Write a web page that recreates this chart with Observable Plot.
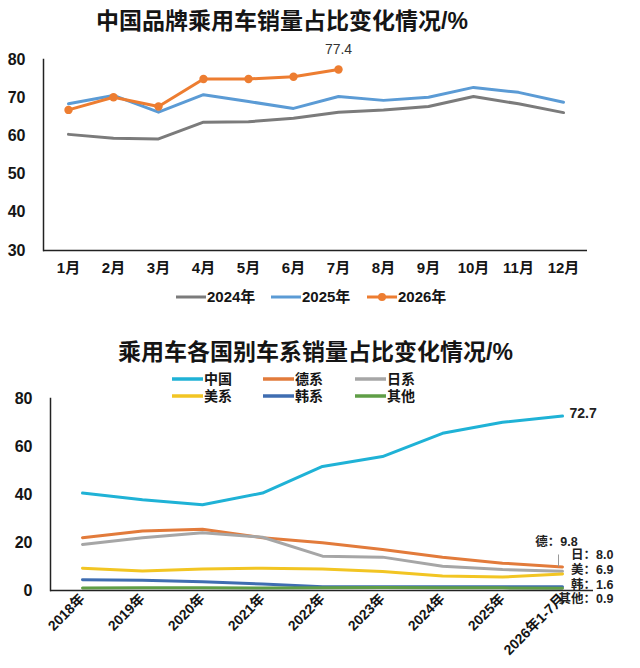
<!DOCTYPE html>
<html><head><meta charset="utf-8">
<script src="https://cdn.jsdelivr.net/npm/d3@7"></script>
<script src="https://cdn.jsdelivr.net/npm/@observablehq/plot@0.6"></script>
<style>
body{margin:0;background:#fff;font-family:"Liberation Sans","Noto Sans CJK SC",sans-serif;}
#wrap{position:relative;width:640px;height:668px;overflow:hidden;background:#fff;}
.title{position:absolute;font-weight:bold;font-size:23px;color:#151515;white-space:nowrap;line-height:1;}
.plot{position:absolute;left:0;}
.leg{position:absolute;font-weight:bold;color:#151515;white-space:nowrap;z-index:2;}
.item{position:absolute;display:flex;align-items:center;line-height:1;}
.item svg{display:block;margin-right:1px;}
</style></head>
<body><div id="wrap">
<div class="title" id="t1" style="left:96px;top:10px;">中国品牌乘用车销量占比变化情况/%</div>
<div class="plot" id="p1" style="top:40px;"></div>
<div class="leg" id="l1" style="left:0;top:297px;font-size:15px;"></div>
<div class="title" id="t2" style="left:118px;top:341px;">乘用车各国别车系销量占比变化情况/%</div>
<div class="plot" id="p2" style="top:380px;"></div>
<div class="leg" id="l2" style="left:0;top:0;font-size:14px;"></div>
</div>
<script>
// ---- Chart 1 data ----
const months = ["1月","2月","3月","4月","5月","6月","7月","8月","9月","10月","11月","12月"];
const share2024 = [60.4, 59.4, 59.2, 63.6, 63.7, 64.6, 66.2, 66.8, 67.7, 70.3, 68.4, 66.1];
const share2025 = [68.4, 70.6, 66.2, 70.8, 69.0, 67.2, 70.3, 69.3, 70.1, 72.7, 71.4, 68.8];
const share2026 = [66.8, 70.1, 67.7, 74.9, 74.9, 75.5, 77.4];
const yearNames = ["2024年","2025年","2026年"];
const yearColors = ["#7b7b7b","#5b9bd5","#ed7d31"];
const yTicks1 = [30,40,50,60,70,80];

// ---- Chart 2 data ----
const periods = ["2018年","2019年","2020年","2021年","2022年","2023年","2024年","2025年","2026年1-7月"];
const china    = [40.6, 37.8, 35.7, 40.6, 51.7, 55.8, 65.5, 70.1, 72.7];
const german   = [22.0, 24.8, 25.5, 22.0, 19.9, 17.1, 13.9, 11.4, 9.8];
const japanese = [19.2, 22.0, 24.1, 22.2, 14.3, 13.9, 10.1, 8.7, 8.0];
const american = [9.3, 8.1, 9.0, 9.3, 9.0, 7.9, 6.0, 5.6, 6.9];
const korean   = [4.5, 4.3, 3.6, 2.7, 1.6, 1.6, 1.6, 1.6, 1.6];
const others   = [1.0, 1.1, 1.1, 1.0, 1.1, 1.2, 1.1, 1.1, 0.9];
const seriesNames  = ["中国","德系","日系","美系","韩系","其他"];
const seriesShort  = ["中国","德","日","美","韩","其他"];
const seriesColors = ["#1fb2d6","#e27b3b","#a6a6a6","#f2c523","#3f6db1","#5f9e46"];
const yTicks2 = [0,20,40,60,80];

const FONT = '"Liberation Sans","Noto Sans CJK SC",sans-serif';

// ---- Chart 1 ----
const rows1 = [];
[share2024, share2025, share2026].forEach((arr, k) => arr.forEach((v, i) => rows1.push({month: months[i], year: yearNames[k], value: v})));
const rows2026 = rows1.filter(d => d.year === "2026年");
const last2026 = rows2026[rows2026.length - 1];

const p1 = Plot.plot({
  width: 640, height: 250,
  marginTop: 19, marginBottom: 40, marginLeft: 43, marginRight: 53,
  style: {fontFamily: FONT, color: "#151515", background: "transparent", overflow: "visible"},
  x: {type: "point", domain: months, padding: 0.5, label: null, axis: null},
  y: {domain: [30, 80], label: null, axis: null},
  color: {domain: yearNames, range: yearColors},
  marks: [
    Plot.axisY({ticks: yTicks1, tickSize: 0, tickPadding: 18, fontSize: 16, fontWeight: "bold", label: null}),
    Plot.axisX({tickSize: 0, tickPadding: 12, fontSize: 15, fontWeight: "bold", label: null}),
    Plot.ruleY([30], {stroke: "#222", strokeWidth: 1.5}),
    Plot.frame({anchor: "left", stroke: "#222", strokeWidth: 1.5}),
    Plot.line(rows1, {x: "month", y: "value", z: "year", stroke: "year", strokeWidth: 3}),
    Plot.dot(rows2026, {x: "month", y: "value", fill: yearColors[2], r: 4.2}),
    Plot.text([last2026], {x: "month", y: "value", text: d => d.value.toFixed(1), dy: -20, fontSize: 14, fill: "#333"})
  ]
});
document.getElementById("p1").appendChild(p1);

// legend 1
const l1 = document.getElementById("l1");
const l1x = [176, 271, 367];
yearNames.forEach((n, k) => {
  const it = document.createElement("div");
  it.className = "item";
  it.style.left = l1x[k] + "px";
  it.style.top = "-8px";
  const dot = k === 2 ? `<circle cx="15" cy="7" r="4" fill="${yearColors[k]}"/>` : "";
  it.innerHTML = `<svg width="30" height="14"><line x1="0" x2="30" y1="7" y2="7" stroke="${yearColors[k]}" stroke-width="3"/>${dot}</svg><span>${n}</span>`;
  l1.appendChild(it);
});

// ---- Chart 2 ----
const seriesVals = [china, german, japanese, american, korean, others];
const rows2 = [];
seriesVals.forEach((arr, k) => arr.forEach((v, i) => rows2.push({period: periods[i], series: seriesNames[k], value: v})));
const lastP = periods[periods.length - 1];
const lastOf = k => ({period: lastP, series: seriesNames[k], short: seriesShort[k], value: seriesVals[k][seriesVals[k].length - 1]});

const labelStyle = {fontSize: 12.5, fontWeight: "bold", fill: "#222", x: "period", y: "value"};
const lbl = d => `${d.short}：${d.value.toFixed(1)}`;
const p2 = Plot.plot({
  width: 640, height: 288,
  marginTop: 18, marginBottom: 78, marginLeft: 50, marginRight: 47,
  style: {fontFamily: FONT, color: "#151515", background: "transparent", overflow: "visible"},
  x: {type: "point", domain: periods, padding: 0.5, label: null, axis: null},
  y: {domain: [0, 80], label: null, axis: null},
  color: {domain: seriesNames, range: seriesColors},
  marks: [
    Plot.axisY({ticks: yTicks2, tickSize: 0, tickPadding: 18, fontSize: 16, fontWeight: "bold", label: null}),
    Plot.axisX({tickSize: 0, tickPadding: 6, tickRotate: -45, fontSize: 14, fontWeight: "bold", label: null}),
    Plot.line(rows2, {x: "period", y: "value", z: "series", stroke: "series", strokeWidth: 3}),
    Plot.ruleY([0], {stroke: "#222", strokeWidth: 1.5}),
    Plot.frame({anchor: "left", stroke: "#222", strokeWidth: 1.5}),
    Plot.ruleX([lastOf(1)], {x: "period", y1: "value", y2: d => d.value + 5, dx: -4, stroke: "#999", strokeWidth: 1}),
    Plot.text([lastOf(0)], {...labelStyle, fontSize: 14, text: d => d.value.toFixed(1), textAnchor: "start", dx: 7, dy: -3}),
    Plot.text([lastOf(1)], {...labelStyle, text: lbl, textAnchor: "middle", dx: -6, dy: -25}),
    Plot.text([lastOf(2)], {...labelStyle, text: lbl, textAnchor: "end", dx: 51, dy: -16}),
    Plot.text([lastOf(3)], {...labelStyle, text: lbl, textAnchor: "end", dx: 51, dy: -4}),
    Plot.text([lastOf(4)], {...labelStyle, text: lbl, textAnchor: "end", dx: 51, dy: -2}),
    Plot.text([lastOf(5)], {...labelStyle, text: lbl, textAnchor: "end", dx: 51, dy: 11})
  ]
});
document.getElementById("p2").appendChild(p2);

// legend 2
const l2 = document.getElementById("l2");
const l2x = [172, 263, 355];
const l2y = [380, 397];
seriesNames.forEach((n, k) => {
  const it = document.createElement("div");
  it.className = "item";
  it.style.left = l2x[k % 3] + "px";
  it.style.top = (l2y[Math.floor(k / 3)] - 8) + "px";
  it.innerHTML = `<svg width="31" height="14"><line x1="0" x2="31" y1="7" y2="7" stroke="${seriesColors[k]}" stroke-width="3.5"/></svg><span>${n}</span>`;
  l2.appendChild(it);
});
</script>
</body></html>
